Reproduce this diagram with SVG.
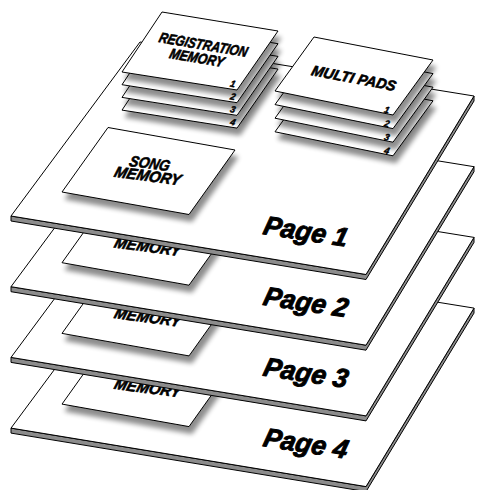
<svg xmlns="http://www.w3.org/2000/svg" xmlns:xlink="http://www.w3.org/1999/xlink" width="477" height="490" viewBox="0 0 477 490">
<style>
.face{fill:#fff;stroke:#000;stroke-width:1;stroke-linejoin:round}
.band{fill:#8c8c8c;stroke:#000;stroke-width:1;stroke-linejoin:round}
.card{fill:#fff;stroke:#000;stroke-width:1;stroke-linejoin:round}
.t{font-family:"Liberation Sans",Arial,sans-serif;font-weight:bold;font-style:italic;fill:#000;stroke:#000;stroke-width:0.6;stroke-linejoin:round}
.lbl{font-size:26px;stroke-width:0.9}
.big{font-size:14px;text-anchor:middle}
.num{font-size:9px;text-anchor:middle;stroke-width:0.4}
</style>
<defs>
<filter id="sh" x="-20%" y="-30%" width="150%" height="180%">
<feGaussianBlur in="SourceAlpha" stdDeviation="2.5"/>
<feOffset dx="3" dy="7"/>
<feComponentTransfer><feFuncA type="linear" slope="0.45"/></feComponentTransfer>
<feMerge><feMergeNode/><feMergeNode in="SourceGraphic"/></feMerge>
</filter>
<g id="pageShape">
<polygon class="band" points="11,216 366,274.5 474,96 474,101 366,279.5 11,221"/>
<polygon class="face" points="11,216 366,274.5 474,96 140,42"/>
</g>
<g id="songCard">
<polygon class="card" filter="url(#sh)" points="62,192 189,214.5 235,150 108,127.5"/>
<g transform="matrix(1 0.13 -0.3 1 150 163)"><text class="t big" x="0" y="5.5" style="font-size:15px" textLength="40" lengthAdjust="spacingAndGlyphs">SONG</text></g>
<g transform="matrix(1 0.13 -0.3 1 148 175.5)"><text class="t big" x="0" y="5.5" style="font-size:15px" textLength="66" lengthAdjust="spacingAndGlyphs">MEMORY</text></g>
</g>
<polygon id="regCard" class="card" filter="url(#sh)" points="122,72 237,90 278,31 162,12"/>
<polygon id="multiCard" class="card" filter="url(#sh)" points="275,91 393,115 433,60 314,37"/>
</defs>

<g id="page4" transform="translate(0 212.1)">
<use xlink:href="#pageShape"/>
<use xlink:href="#songCard"/>
<g transform="matrix(1 0.15 -0.25 1 262 234)"><text class="t lbl" x="0" y="0">Page 4</text></g>
</g>
<g id="page3" transform="translate(0 141.4)">
<use xlink:href="#pageShape"/>
<use xlink:href="#songCard"/>
<g transform="matrix(1 0.15 -0.25 1 262 234)"><text class="t lbl" x="0" y="0">Page 3</text></g>
</g>
<g id="page2" transform="translate(0 70.7)">
<use xlink:href="#pageShape"/>
<use xlink:href="#songCard"/>
<g transform="matrix(1 0.15 -0.25 1 262 234)"><text class="t lbl" x="0" y="0">Page 2</text></g>
</g>
<g id="page1">
<use xlink:href="#pageShape"/>
<g transform="matrix(1 0.15 -0.25 1 262 234)"><text class="t lbl" x="0" y="0">Page 1</text></g>
</g>

<g id="song-memory">
<use xlink:href="#songCard"/>
</g>

<g id="registration-memory">
<g transform="translate(0 38.1)"><use xlink:href="#regCard"/><g transform="matrix(1 0.17 -0.3 1 233 84)"><text class="t num" y="3">4</text></g></g>
<g transform="translate(0 25.4)"><use xlink:href="#regCard"/><g transform="matrix(1 0.17 -0.3 1 233 84)"><text class="t num" y="3">3</text></g></g>
<g transform="translate(0 12.7)"><use xlink:href="#regCard"/><g transform="matrix(1 0.17 -0.3 1 233 84)"><text class="t num" y="3">2</text></g></g>
<g><use xlink:href="#regCard"/><g transform="matrix(1 0.17 -0.3 1 233 84)"><text class="t num" y="3">1</text></g></g>
<g transform="matrix(1 0.17 -0.3 1 203.5 44.5)"><text class="t big" y="5" textLength="88" lengthAdjust="spacingAndGlyphs">REGISTRATION</text></g>
<g transform="matrix(1 0.17 -0.3 1 197 57.5)"><text class="t big" y="5" textLength="54" lengthAdjust="spacingAndGlyphs">MEMORY</text></g>
</g>

<g id="multi-pads">
<g transform="translate(0 40.8)"><use xlink:href="#multiCard"/><g transform="matrix(1 0.19 -0.3 1 387 110)"><text class="t num" y="3">4</text></g></g>
<g transform="translate(0 27.2)"><use xlink:href="#multiCard"/><g transform="matrix(1 0.19 -0.3 1 387 110)"><text class="t num" y="3">3</text></g></g>
<g transform="translate(0 13.6)"><use xlink:href="#multiCard"/><g transform="matrix(1 0.19 -0.3 1 387 110)"><text class="t num" y="3">2</text></g></g>
<g><use xlink:href="#multiCard"/><g transform="matrix(1 0.19 -0.3 1 387 110)"><text class="t num" y="3">1</text></g></g>
<g transform="matrix(1 0.19 -0.3 1 354 78)"><text class="t big" y="5" textLength="84" lengthAdjust="spacingAndGlyphs">MULTI PADS</text></g>
</g>
</svg>
